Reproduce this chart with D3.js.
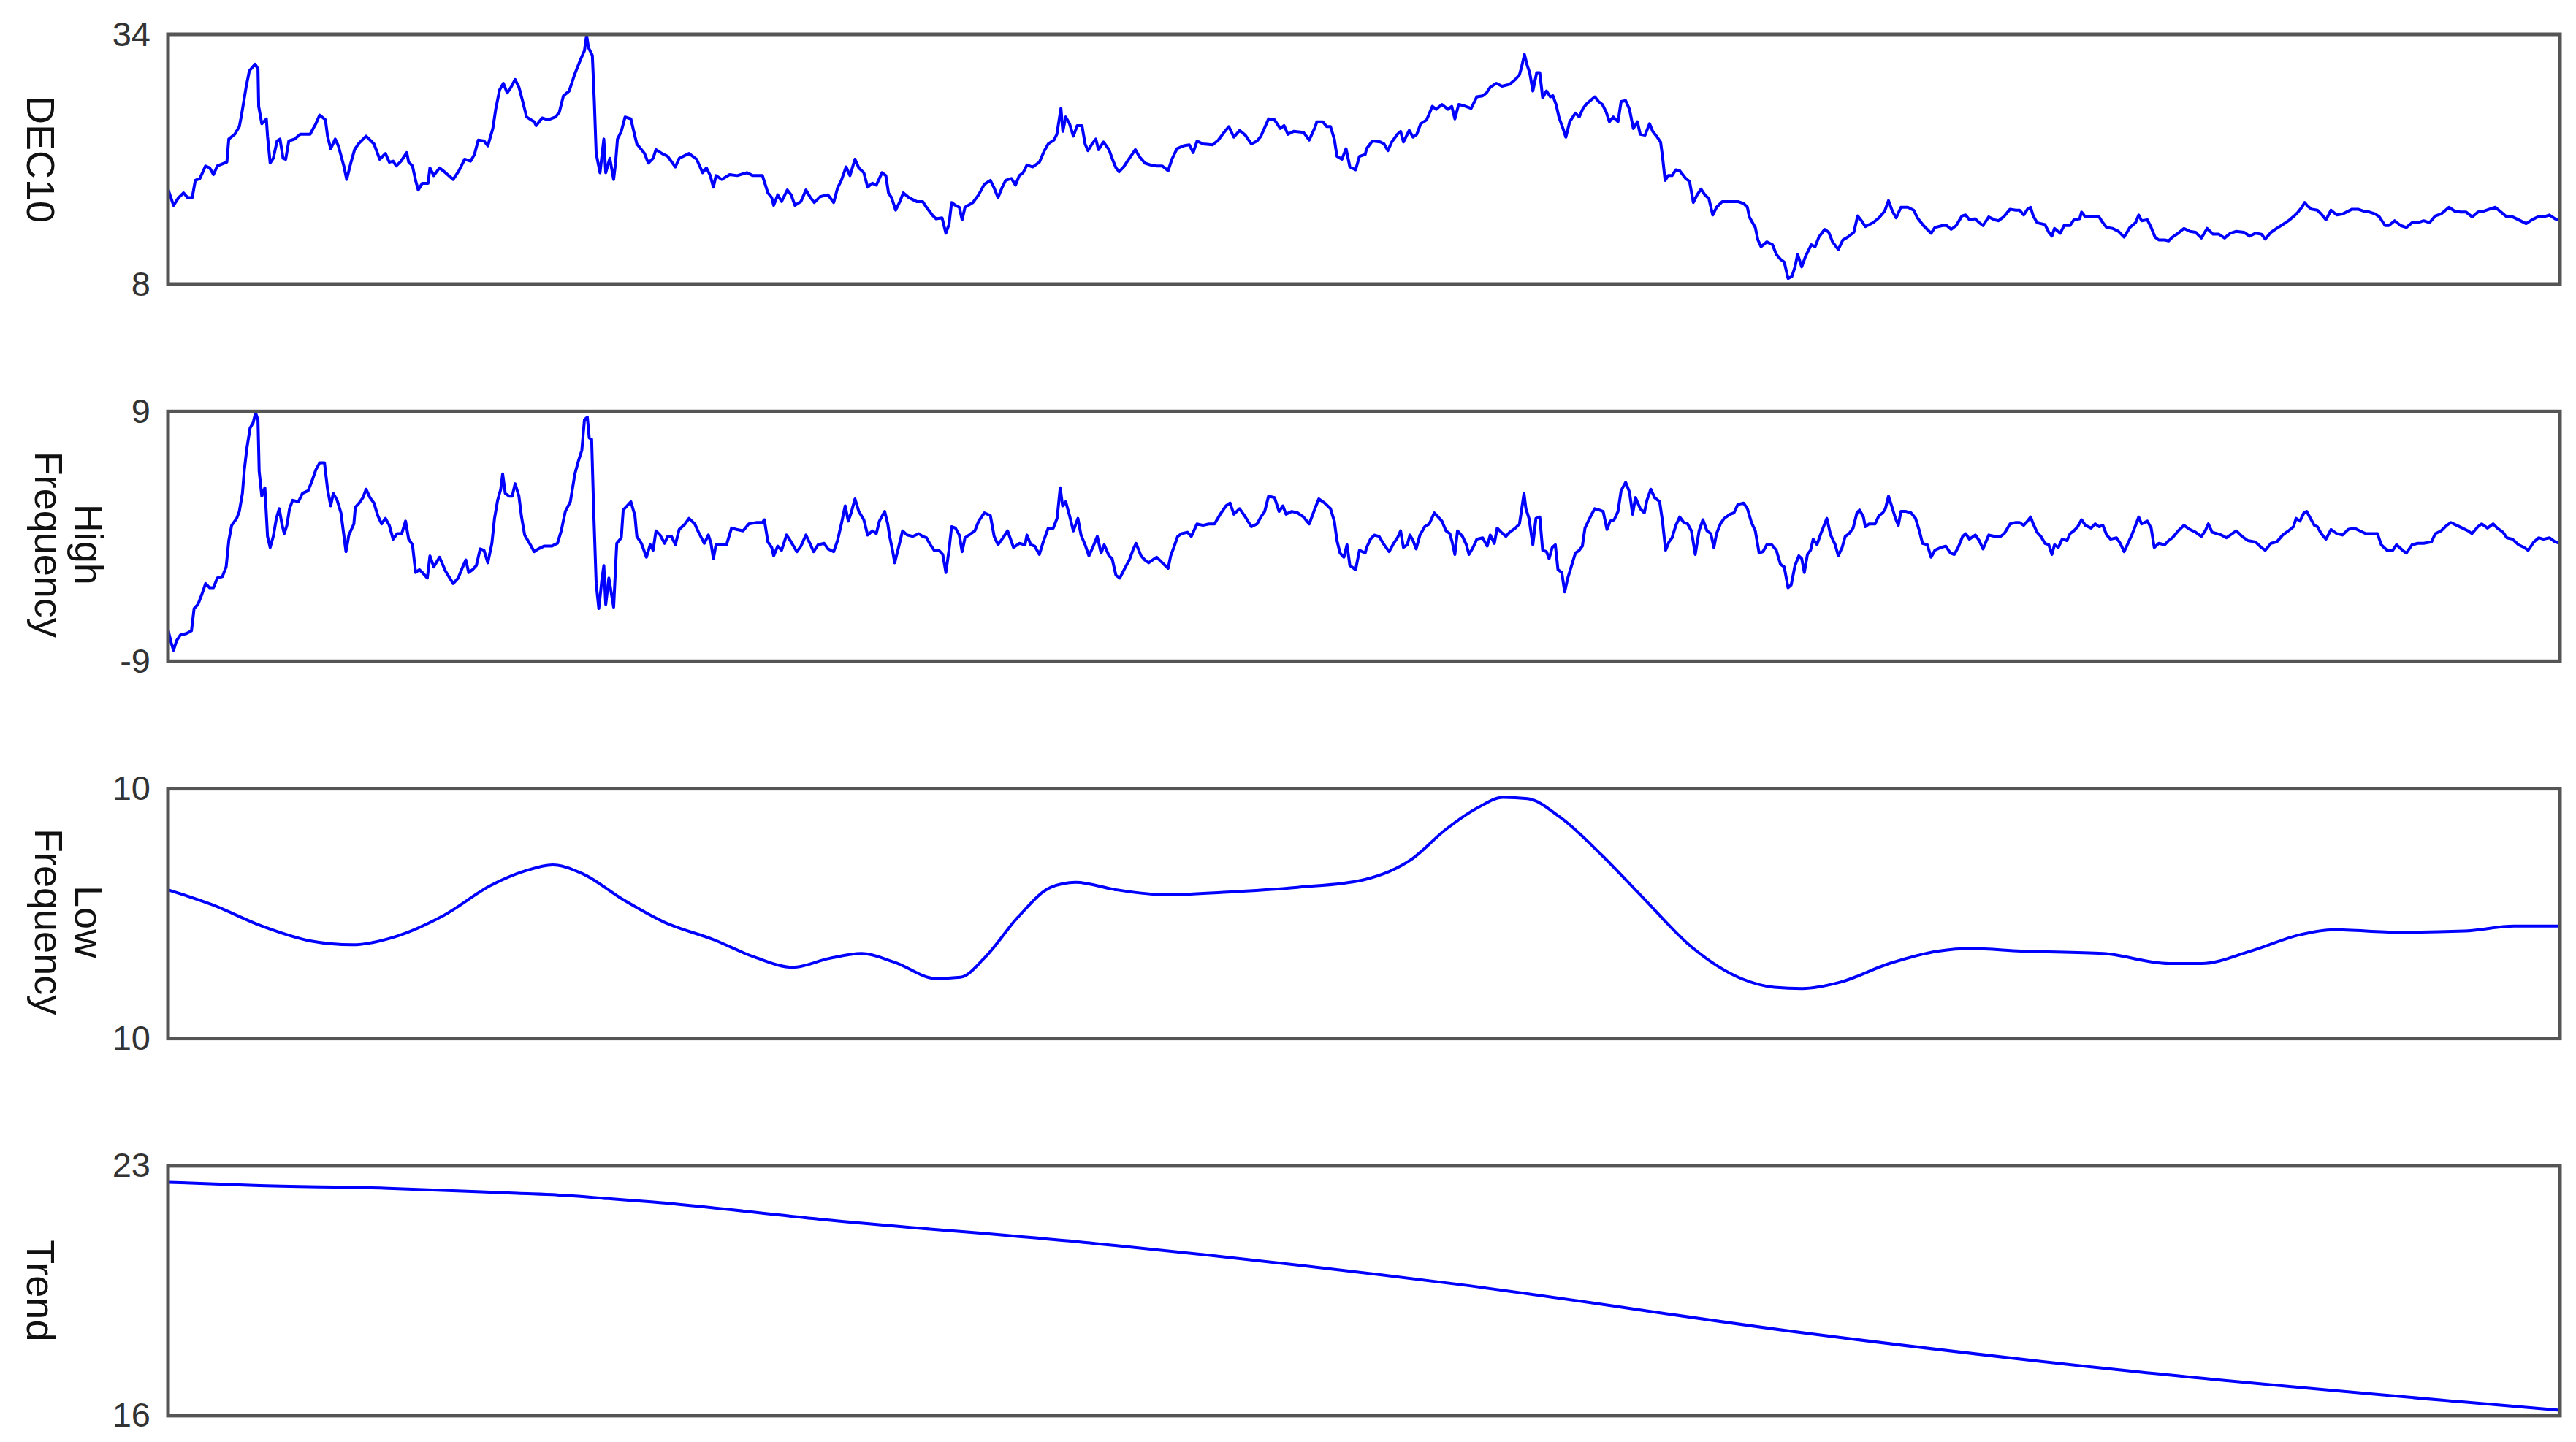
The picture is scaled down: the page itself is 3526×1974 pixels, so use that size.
<!DOCTYPE html>
<html>
<head>
<meta charset="utf-8">
<script src="https://cdn.jsdelivr.net/npm/d3@7"></script>
<style>
    html, body { margin: 0; padding: 0; background: #fff; }
    svg { display: block; }
    .tick-label { font-family: "Liberation Sans", Arial, sans-serif; font-size: 47px; fill: #333; }
    .y-label { font-family: "Liberation Sans", Arial, sans-serif; font-size: 54px; fill: #111; }
    .frame { fill: none; stroke: #555; stroke-width: 5; }
    .series { fill: none; stroke: #0000ff; stroke-width: 4; stroke-linejoin: round; }
</style>
</head>
<body>
<svg id="chart"></svg>
<script>
/**
 * Data: sample index (0..1000) and value for each component.
 */
const timeDomain = [0, 1000];
const panelTitles = [['DEC10'], ['High', 'Frequency'], ['Low', 'Frequency'], ['Trend']];
const panelRanges = [[8, 34], [-9, 9], [-10, 10], [16, 23]];
const panelTickLabels = [['34', '8'], ['9', '-9'], ['10', '10'], ['23', '16']];

const dec10 = [
    [0,17.9],[1.2,17.0],[2.3,16.2],[4.4,17.0],[6.5,17.5],[8.2,17.0],[10.1,17.0],[11.4,18.8],[13.3,19.0],[15.7,20.3],
    [17.4,20.1],[19.0,19.4],[20.6,20.3],[24.6,20.7],[25.4,23.1],[27.9,23.6],[29.8,24.4],[30.8,25.7],[32.7,28.6],[34.0,30.2],
    [36.4,30.9],[37.6,30.4],[37.9,26.5],[39.2,24.7],[41.1,25.2],[41.6,23.4],[42.7,20.6],[44.0,21.1],[45.6,22.9],[46.8,23.1],
    [48.1,21.1],[49.2,21.0],[50.5,22.9],[52.9,23.1],[55.3,23.6],[59.4,23.6],[61.8,24.7],[63.4,25.6],[65.8,25.1],[66.7,23.4],
    [68.0,22.1],[69.9,23.1],[71.2,22.4],[73.5,20.3],[74.7,18.9],[76.4,20.6],[78.0,22.0],[79.6,22.6],[82.8,23.4],[86.1,22.6],
    [88.5,21.0],[90.9,21.6],[92.5,20.7],[94.1,20.8],[95.4,20.3],[97.4,20.8],[99.8,21.7],[100.6,20.7],[102.2,20.3],[103.5,18.8],
    [104.6,17.8],[106.3,18.5],[108.7,18.5],[109.5,20.1],[111.1,19.3],[113.5,20.1],[116.0,19.6],[119.2,18.9],[121.6,19.8],[124.0,21.0],
    [126.5,20.8],[128.1,21.5],[129.7,23.0],[132.1,22.9],[133.7,22.4],[135.8,24.2],[137.0,26.2],[138.6,28.2],[140.2,28.9],[141.8,27.9],
    [143.4,28.5],[145.1,29.3],[146.7,28.5],[148.3,27.0],[149.9,25.4],[153.1,24.9],[153.9,24.5],[156.4,25.3],[158.8,25.1],[162.0,25.4],
    [163.6,25.9],[165.3,27.6],[167.7,28.1],[170.1,29.9],[172.5,31.4],[174.1,32.3],[175.0,33.9],[175.8,32.6],[177.4,31.8],[178.2,27.2],
    [179.0,21.6],[180.6,19.6],[182.2,23.1],[183.0,19.6],[184.7,21.1],[186.3,18.9],[187.1,20.6],[187.9,23.1],[189.5,23.9],[191.1,25.4],
    [193.5,25.2],[195.2,23.4],[196.0,22.6],[199.2,21.6],[200.8,20.6],[202.8,21.1],[204.0,22.0],[206.5,21.6],[208.9,21.3],[212.1,20.2],
    [213.7,21.1],[217.8,21.6],[221.0,21.0],[223.5,19.6],[225.1,20.1],[226.7,19.3],[228.0,18.1],[229.1,19.3],[231.5,18.9],[234.8,19.4],
    [238.0,19.3],[242.0,19.6],[244.5,19.3],[248.5,19.3],[250.8,17.5],[252.4,17.0],[253.2,16.2],[254.9,17.3],[256.5,16.6],[258.9,17.8],
    [260.5,17.3],[262.1,16.2],[264.6,16.6],[266.7,17.8],[268.6,17.0],[270.2,16.5],[272.6,17.1],[275.9,17.3],[278.3,16.5],[279.9,18.0],
    [281.5,18.8],[283.5,20.2],[285.1,19.3],[287.2,21.0],[288.8,20.1],[290.9,19.6],[292.5,18.1],[294.5,18.5],[296.1,18.3],[298.5,19.6],
    [300.1,19.3],[301.2,17.5],[302.5,17.0],[304.2,15.7],[305.8,16.5],[307.4,17.5],[309.8,17.0],[313.0,16.6],[315.5,16.6],[317.1,16.0],
    [319.5,15.2],[321.1,14.8],[323.6,14.9],[325.2,13.3],[326.5,14.2],[327.6,16.5],[329.2,16.2],[330.8,16.0],[332.0,14.7],[333.2,16.0],
    [336.5,16.5],[338.9,17.3],[341.3,18.4],[343.8,18.8],[345.4,18.0],[347.0,17.0],[348.6,18.0],[350.2,18.8],[352.6,19.0],[354.3,18.3],
    [355.9,19.3],[357.5,19.6],[359.1,20.4],[361.5,20.2],[364.3,20.7],[366.4,21.9],[368.0,22.6],[370.4,23.0],[371.6,23.6],[373.3,26.3],
    [374.1,23.9],[375.3,25.4],[376.9,24.7],[378.5,23.4],[380.1,24.5],[382.1,24.5],[383.4,22.6],[384.6,21.9],[386.3,22.6],[387.9,23.1],
    [389.0,22.0],[391.1,22.8],[393.4,22.0],[394.7,21.1],[396.3,20.1],[397.6,19.7],[399.5,20.2],[401.1,20.8],[404.4,22.0],[406.0,21.3],
    [408.4,20.6],[410.8,20.4],[413.3,20.3],[415.7,20.3],[418.1,19.8],[419.7,21.0],[421.8,22.1],[424.6,22.4],[427.0,22.5],[428.6,21.7],
    [430.2,22.9],[432.7,22.6],[436.7,22.5],[439.1,23.0],[441.5,23.8],[443.5,24.4],[445.6,23.3],[448.0,24.0],[450.4,23.5],[452.9,22.6],
    [455.3,22.9],[456.9,23.4],[458.5,24.3],[460.1,25.2],[462.6,25.1],[465.0,24.2],[466.6,24.5],[468.2,23.6],[470.6,23.9],[474.7,23.8],
    [477.1,23.0],[479.5,24.3],[480.3,24.9],[482.8,24.9],[484.4,24.4],[486.0,24.4],[487.6,23.1],[488.7,21.3],[490.8,21.0],[492.5,22.1],
    [494.1,20.2],[496.5,19.9],[498.1,21.3],[500.5,21.5],[501.1,22.1],[503.5,22.9],[506.8,22.8],[508.4,22.6],[510.0,21.9],[511.6,22.8],
    [514.0,23.6],[515.3,23.9],[516.5,22.8],[518.9,24.0],[520.5,23.3],[522.1,23.6],[523.7,24.7],[526.2,25.1],[528.6,26.5],[530.2,26.2],
    [532.6,26.7],[535.1,26.2],[536.7,26.5],[538.0,25.2],[539.6,26.7],[541.5,26.6],[544.8,26.3],[547.2,27.5],[549.6,27.6],[551.2,27.9],
    [552.8,28.5],[555.3,28.9],[557.7,28.6],[560.9,28.8],[563.3,29.3],[565.0,29.8],[565.8,30.5],[567.1,31.9],[568.2,30.8],[569.3,30.0],
    [570.6,28.1],[572.2,30.0],[573.5,30.0],[574.7,27.4],[576.3,28.1],[577.9,27.5],[579.0,27.6],[580.3,26.7],[581.6,25.3],[583.2,24.2],
    [584.4,23.3],[586.0,24.9],[588.4,25.8],[590.0,25.4],[591.6,26.3],[593.2,26.8],[596.5,27.5],[598.1,27.0],[599.7,26.7],[601.3,25.9],
    [602.6,24.9],[604.2,25.4],[606.2,24.9],[607.5,27.0],[609.4,27.1],[611.0,26.2],[612.6,24.2],[614.3,24.9],[615.5,23.6],[617.5,23.5],
    [619.4,24.7],[620.7,23.9],[622.3,23.4],[624.0,22.8],[624.8,21.3],[625.9,18.8],[627.2,19.3],[628.8,19.3],[630.4,19.9],[632.0,19.8],
    [634.5,19.0],[636.1,18.7],[637.7,16.5],[639.3,17.3],[640.9,17.9],[642.5,17.3],[644.2,16.9],[645.8,15.2],[647.4,16.0],[649.8,16.6],
    [653.1,16.6],[656.3,16.6],[658.7,16.4],[660.3,16.0],[661.1,15.0],[663.6,13.9],[664.7,12.6],[666.0,11.9],[668.4,12.4],[670.8,12.1],
    [672.4,11.1],[674.1,10.6],[675.7,10.3],[677.3,8.6],[678.9,8.8],[680.2,9.8],[681.3,11.1],[683.0,9.8],[684.6,10.9],[687.0,12.1],
    [688.6,11.9],[690.2,12.9],[692.6,13.7],[694.3,13.4],[695.9,12.4],[698.3,11.6],[700.2,12.6],[702.3,12.9],[704.8,13.4],[706.4,15.1],
    [708.0,14.6],[709.6,14.0],[712.9,14.4],[715.3,14.9],[717.7,15.6],[719.3,16.7],[720.9,15.6],[722.5,14.9],[724.5,16.0],[727.4,16.0],
    [729.8,15.7],[731.4,14.9],[733.9,14.1],[735.5,13.7],[737.1,13.3],[738.7,13.9],[741.9,14.1],[743.6,14.1],[745.5,13.7],[747.6,14.1],
    [750.0,15.1],[751.5,15.2],[753.1,14.7],[755.6,14.8],[757.2,14.4],[758.8,14.1],[761.2,15.0],[763.6,14.7],[765.3,14.6],[767.4,15.0],
    [770.1,15.8],[772.5,15.7],[774.1,15.7],[775.8,15.2],[777.4,15.8],[778.7,16.0],[779.8,15.1],[781.4,14.4],[783.0,14.3],[784.7,14.2],
    [786.3,13.4],[787.6,13.0],[788.7,13.8],[791.1,13.3],[792.7,14.1],[795.2,14.1],[796.8,14.7],[799.2,14.8],[800.0,15.5],[801.6,15.0],
    [804.9,15.0],[807.3,15.0],[808.9,14.4],[810.5,13.9],[813.0,13.8],[815.4,13.5],[817.8,12.9],[820.2,13.9],[822.6,14.4],[823.9,15.2],
    [825.1,14.6],[827.5,14.7],[829.1,13.9],[830.7,12.9],[832.3,12.6],[834.8,12.6],[836.4,12.5],[838.0,12.9],[840.4,13.3],[842.8,13.8],
    [845.3,13.5],[847.7,13.4],[850.1,12.8],[852.5,13.8],[855.0,13.2],[857.4,13.2],[859.8,12.8],[862.2,13.3],[864.7,13.5],[867.9,13.4],
    [870.3,13.0],[872.7,13.3],[875.2,13.2],[876.8,12.7],[879.2,13.4],[881.6,13.8],[884.1,14.2],[886.5,14.6],[888.9,15.1],[890.5,15.5],
    [892.1,16.0],[893.3,16.5],[894.6,16.1],[896.2,15.8],[898.6,15.7],[900.2,15.3],[902.2,14.7],[904.3,15.7],[906.7,15.2],[909.1,15.3],
    [910.7,15.5],[913.1,15.8],[915.6,15.8],[918.0,15.6],[920.4,15.5],[922.8,15.3],[924.5,15.0],[926.9,14.1],[928.5,14.1],[930.9,14.6],
    [933.4,14.1],[935.8,13.9],[938.2,14.4],[940.6,14.4],[943.0,14.6],[945.5,14.4],[947.9,15.1],[950.3,15.3],[953.6,16.0],[956.0,15.6],
    [958.4,15.5],[960.8,15.5],[963.3,15.0],[965.7,15.5],[968.1,15.6],[970.5,15.8],[973.0,16.0],[975.4,15.5],[977.8,15.0],[980.2,15.0],
    [982.7,14.7],[985.9,14.3],[988.3,14.7],[990.7,15.0],[993.2,15.0],[995.6,15.2],[998.0,14.8],[1000,14.6]
];

const highFrequency = [
    [0,-6.7],[1.2,-7.6],[2.3,-8.2],[3.6,-7.5],[5.2,-7.1],[7.7,-7.0],[9.8,-6.8],[10.9,-5.2],[12.5,-4.9],[14.1,-4.2],
    [15.7,-3.4],[17.4,-3.7],[19.0,-3.7],[20.6,-3.0],[22.7,-2.9],[24.3,-2.2],[25.4,-0.3],[26.6,0.8],[28.7,1.3],[29.8,1.8],
    [31.1,3.1],[31.9,4.8],[33.0,6.4],[34.3,7.8],[35.6,8.2],[36.6,8.9],[37.6,8.4],[38.1,4.7],[39.2,2.9],[40.5,3.5],
    [41.6,0.0],[42.7,-0.8],[44.0,0.0],[45.3,1.3],[46.5,2.0],[47.6,0.9],[48.6,0.2],[49.7,0.8],[50.8,2.0],[52.1,2.6],
    [54.5,2.5],[56.2,3.1],[58.6,3.3],[60.2,4.0],[61.8,4.8],[63.4,5.3],[65.4,5.3],[66.7,3.4],[68.0,2.2],[69.1,3.1],
    [70.7,2.6],[72.3,1.7],[73.5,0.1],[74.4,-1.1],[75.6,0.1],[77.7,0.9],[78.3,2.1],[79.9,2.4],[81.5,2.8],[82.8,3.4],
    [84.4,2.8],[86.1,2.4],[87.7,1.5],[89.3,0.9],[90.9,1.3],[92.5,0.8],[94.1,-0.2],[95.8,0.2],[97.7,0.2],[99.3,1.1],
    [100.6,-0.2],[102.2,-0.6],[103.5,-2.6],[105.1,-2.4],[106.3,-2.6],[108.4,-3.0],[109.5,-1.4],[111.1,-2.2],[113.5,-1.5],[116.0,-2.5],
    [119.2,-3.4],[121.3,-3.0],[123.2,-2.2],[124.5,-1.7],[125.7,-2.6],[127.3,-2.4],[128.9,-2.1],[130.5,-0.9],[132.1,-1.0],[133.7,-1.9],
    [135.4,-0.5],[136.5,1.3],[137.8,2.6],[139.1,3.4],[139.9,4.5],[141.0,3.1],[142.6,2.9],[143.9,2.9],[145.1,3.8],[146.7,2.9],
    [147.8,1.4],[149.1,0.1],[151.5,-0.6],[153.1,-1.1],[154.8,-0.9],[157.2,-0.7],[160.4,-0.7],[162.8,-0.5],[164.4,0.4],[166.1,1.8],
    [168.2,2.5],[170.1,4.5],[171.7,5.5],[173.0,6.2],[174.1,8.4],[175.3,8.6],[176.1,7.1],[177.1,7.0],[177.9,2.2],[179.0,-3.4],
    [180.1,-5.2],[181.4,-3.1],[182.2,-2.1],[183.0,-4.9],[184.3,-3.0],[186.3,-5.1],[187.6,-0.5],[189.5,-0.1],[190.3,1.9],[191.9,2.2],
    [193.5,2.5],[195.2,1.5],[196.0,0.0],[197.9,-0.5],[200.0,-1.5],[201.6,-0.6],[202.8,-1.0],[204.0,0.4],[205.7,0.1],[207.6,-0.5],
    [208.9,0.0],[210.5,0.0],[212.1,-0.6],[213.7,0.5],[216.2,0.9],[217.8,1.3],[220.2,0.9],[221.8,0.3],[224.2,-0.5],[225.9,0.1],
    [227.0,-0.5],[228.0,-1.6],[229.1,-0.6],[231.5,-0.6],[233.5,-0.6],[235.6,0.6],[237.7,0.5],[240.4,0.4],[242.8,0.9],[246.1,1.0],
    [248.5,1.0],[249.3,1.2],[250.8,-0.4],[252.4,-0.8],[253.2,-1.4],[254.9,-0.7],[256.5,-1.0],[258.6,0.1],[260.5,-0.4],[262.9,-1.1],
    [264.6,-0.7],[266.7,0.1],[268.6,-0.6],[269.9,-1.1],[271.8,-0.6],[274.3,-0.5],[275.9,-0.9],[278.3,-1.1],[279.9,-0.3],[281.5,0.9],
    [283.1,2.2],[284.4,1.1],[285.6,1.7],[287.2,2.7],[288.8,1.8],[290.9,1.2],[292.5,0.1],[294.5,0.4],[296.1,0.2],[297.4,1.1],
    [299.6,1.8],[300.9,0.9],[301.7,0.0],[302.9,-1.0],[303.8,-1.9],[305.4,-0.8],[307.1,0.4],[309.0,0.1],[311.4,0.0],[313.9,0.2],
    [315.5,0.0],[317.1,-0.1],[318.7,-0.6],[320.3,-1.0],[322.3,-1.0],[323.9,-1.3],[325.2,-2.6],[326.5,-1.0],[327.6,0.7],[329.2,0.6],
    [330.8,0.1],[332.0,-1.1],[333.2,-0.1],[334.9,0.1],[337.3,0.4],[338.9,1.1],[341.3,1.7],[343.8,1.5],[345.4,0.0],[347.0,-0.6],
    [349.1,-0.1],[351.0,0.4],[353.5,-0.8],[355.9,-0.5],[358.3,-0.6],[359.1,0.1],[360.7,-0.6],[362.3,-0.7],[364.3,-1.3],[365.9,-0.4],
    [368.0,0.6],[370.1,0.6],[371.7,1.3],[373.0,3.5],[374.0,2.2],[375.3,2.5],[376.9,1.5],[378.5,0.4],[380.4,1.3],[381.7,0.1],
    [383.4,-0.6],[385.0,-1.4],[386.6,-0.8],[388.5,0.0],[390.1,-1.2],[391.4,-0.6],[393.4,-1.4],[394.7,-1.6],[396.3,-2.8],[397.9,-3.0],
    [400.3,-2.2],[401.9,-1.7],[403.6,-0.9],[404.7,-0.5],[406.8,-1.4],[408.4,-1.7],[410.0,-1.9],[411.6,-1.7],[413.3,-1.5],[415.7,-1.9],
    [418.1,-2.3],[419.2,-1.4],[420.5,-0.8],[422.1,0.0],[423.8,0.2],[426.2,0.3],[427.8,0.0],[430.2,0.9],[432.7,0.8],[435.1,0.9],
    [437.5,0.9],[439.9,1.6],[442.3,2.2],[444.0,2.4],[445.6,1.6],[448.0,2.0],[450.4,1.4],[452.9,0.7],[455.3,0.9],[456.9,1.4],
    [458.5,1.8],[460.1,2.9],[462.6,2.8],[464.5,1.8],[466.1,2.2],[467.4,1.6],[469.8,1.8],[472.2,1.7],[474.7,1.4],[477.1,0.9],
    [479.5,2.0],[481.1,2.7],[483.6,2.4],[486.0,2.0],[487.6,1.1],[488.7,-0.3],[490.0,-1.2],[491.6,-1.5],[492.9,-0.6],[494.1,-2.1],
    [496.5,-2.4],[498.1,-1.0],[500.5,-1.2],[501.1,-0.8],[502.7,-0.2],[504.3,0.1],[506.3,0.0],[508.4,-0.6],[510.5,-1.1],[512.4,-0.5],
    [514.0,-0.1],[515.3,0.4],[516.5,-0.8],[518.1,-0.6],[519.2,0.1],[520.5,-0.3],[521.8,-0.9],[523.4,0.1],[525.4,0.7],[527.3,0.9],
    [529.4,1.7],[531.0,1.4],[532.6,1.1],[534.3,0.4],[535.9,0.2],[537.0,-0.5],[538.0,-1.3],[539.1,0.4],[541.2,0.0],[542.8,-0.6],
    [543.9,-1.3],[545.6,-0.8],[547.2,-0.2],[549.6,-0.1],[551.5,-0.7],[552.8,0.1],[554.5,-0.5],[555.7,0.6],[557.4,0.3],[559.3,0.0],
    [560.9,0.3],[563.3,0.6],[565.0,0.9],[565.8,1.8],[566.9,3.1],[567.7,2.0],[569.0,1.3],[570.6,-0.6],[571.9,1.3],[573.5,1.4],
    [574.7,-1.0],[576.3,-1.1],[577.4,-1.6],[578.7,-0.8],[580.0,-0.6],[581.1,-2.4],[582.7,-2.6],[583.9,-4.0],[585.2,-3.0],[586.8,-2.1],
    [588.4,-1.2],[590.0,-1.0],[591.3,-0.7],[592.4,0.6],[594.9,1.5],[596.5,2.0],[598.4,1.9],[600.0,1.8],[601.6,0.5],[602.9,1.1],
    [604.6,1.2],[606.2,1.8],[607.5,3.3],[609.4,3.9],[611.0,3.2],[612.3,1.6],[613.5,2.8],[615.5,2.0],[617.2,1.7],[618.3,2.6],
    [619.9,3.4],[621.5,2.8],[623.6,2.5],[624.8,1.1],[626.1,-1.0],[627.5,-0.4],[628.8,-0.1],[630.4,0.8],[632.0,1.4],[633.7,1.0],
    [635.3,0.9],[636.9,0.4],[638.5,-1.3],[640.1,0.4],[641.7,1.2],[643.4,0.4],[645.0,0.2],[646.3,-0.8],[647.4,0.2],[649.0,0.9],
    [650.6,1.3],[653.1,1.6],[654.7,1.7],[656.3,2.3],[658.7,2.4],[660.3,2.0],[662.0,1.0],[663.6,0.4],[665.2,-1.2],[666.8,-1.1],
    [668.4,-0.6],[670.5,-0.6],[672.4,-1.0],[674.1,-2.0],[675.7,-2.2],[677.3,-3.7],[678.6,-3.5],[680.2,-2.1],[681.8,-1.4],[683.0,-1.6],
    [684.1,-2.6],[685.4,-1.3],[686.7,-1.0],[687.8,-0.2],[689.4,-0.6],[691.0,0.2],[692.6,0.9],[693.5,1.3],[695.1,0.1],[697.0,-0.6],
    [698.3,-1.4],[699.9,-0.8],[701.2,0.0],[702.8,0.2],[704.5,0.6],[706.1,1.7],[707.2,1.9],[708.8,1.4],[709.6,0.7],[711.2,0.9],
    [713.7,0.9],[715.3,1.5],[716.9,1.7],[718.0,2.0],[719.3,2.9],[720.6,2.2],[722.2,1.3],[723.4,0.8],[724.5,1.8],[726.6,1.8],
    [728.7,1.7],[730.6,1.3],[732.2,0.4],[733.5,-0.5],[735.5,-0.6],[737.1,-1.5],[738.7,-1.0],[741.1,-0.8],[743.2,-0.7],[745.2,-1.2],
    [746.8,-1.3],[748.4,-0.8],[750.3,0.0],[751.6,0.2],[753.1,-0.2],[755.6,0.1],[757.2,-0.3],[758.8,-0.9],[761.2,0.1],[763.6,0.0],
    [766.1,0.0],[767.7,0.2],[770.1,0.9],[772.5,1.0],[774.1,1.0],[775.8,0.8],[777.4,1.1],[778.7,1.4],[779.8,0.9],[781.4,0.3],
    [783.0,0.0],[784.7,-0.5],[786.3,-0.6],[787.6,-1.3],[788.7,-0.6],[790.3,-0.8],[791.9,-0.2],[793.9,-0.3],[795.2,0.2],[796.8,0.4],
    [798.4,0.7],[800.0,1.2],[801.6,0.8],[804.0,0.6],[805.7,0.9],[807.3,0.7],[808.9,0.8],[810.5,0.1],[812.1,-0.2],[814.6,-0.1],
    [816.2,-0.5],[817.8,-1.1],[819.4,-0.5],[821.0,0.1],[822.6,0.8],[823.9,1.4],[825.1,0.9],[827.5,1.1],[829.1,0.6],[830.4,-0.8],
    [832.3,-0.5],[834.8,-0.6],[836.4,-0.3],[838.0,-0.1],[840.4,0.4],[842.8,0.8],[845.3,0.5],[847.7,0.3],[850.1,0.0],[851.7,0.4],
    [853.0,0.9],[854.6,0.3],[856.6,0.2],[858.5,0.1],[860.6,-0.1],[863.0,0.2],[864.7,0.4],[867.1,0.0],[869.5,-0.3],[872.7,-0.4],
    [875.2,-0.8],[876.8,-1.0],[879.2,-0.5],[881.6,-0.4],[884.1,0.1],[886.5,0.4],[888.6,0.7],[889.7,1.3],[891.3,1.1],[893.0,1.7],
    [894.1,1.8],[895.4,1.4],[897.3,0.8],[898.6,0.7],[900.2,0.2],[902.2,-0.2],[904.3,0.5],[906.7,0.2],[909.1,0.1],[911.5,0.5],
    [914.0,0.6],[916.4,0.4],[918.8,0.2],[921.2,0.2],[923.7,0.2],[925.3,-0.6],[927.7,-1.0],[930.1,-1.0],[931.7,-0.6],[934.2,-1.0],
    [935.8,-1.2],[938.2,-0.6],[940.6,-0.5],[943.0,-0.5],[946.3,-0.4],[947.9,0.2],[950.3,0.4],[952.7,0.8],[954.4,1.0],[956.8,0.8],
    [959.2,0.6],[961.6,0.4],[963.2,0.2],[965.7,0.7],[967.3,0.9],[969.7,0.6],[972.1,0.9],[973.8,0.6],[976.2,0.3],[977.8,-0.1],
    [980.2,-0.2],[982.7,-0.6],[985.1,-0.8],[986.7,-1.0],[989.1,-0.4],[991.1,-0.1],[993.1,-0.2],[995.6,-0.1],[998.0,-0.4],[1000,-0.5]
];

const lowFrequency = [
    [0,1.9],[18.6,0.7],[39.2,-1.0],[59.8,-2.2],[77.0,-2.5],[94.2,-1.9],[114.8,-0.2],[135.4,2.3],[149.1,3.4],[160.8,3.9],
    [173.2,3.2],[190.4,1.1],[207.6,-0.7],[228.2,-2.1],[245.4,-3.5],[261.2,-4.3],[276.3,-3.6],[290.0,-3.2],[303.8,-3.9],[321.0,-5.2],
    [331.3,-5.1],[341.6,-3.5],[355.3,-0.3],[369.1,2.1],[379.4,2.5],[396.6,1.9],[417.2,1.5],[441.2,1.7],[472.2,2.1],[499.7,2.7],
    [520.3,4.4],[534.0,6.7],[547.8,8.5],[558.1,9.3],[568.4,9.2],[582.1,7.7],[599.3,4.7],[616.5,1.3],[637.1,-2.7],[657.7,-5.2],
    [671.5,-5.9],[683.2,-6.0],[699.0,-5.5],[719.6,-4.0],[740.2,-3.0],[754.0,-2.8],[774.6,-3.0],[809.0,-3.2],[836.4,-4.0],[850.2,-4.0],
    [870.8,-3.0],[891.4,-1.7],[905.2,-1.3],[932.7,-1.5],[960.2,-1.4],[980.8,-1.0],[1000,-1.0]
];

const trend = [
    [0,22.54],[36,22.45],[92,22.37],[123,22.29],[146,22.23],[167,22.17],[184,22.08],[202,21.99],[273,21.5],[388,20.82],
    [538,19.69],[686,18.3],[823,17.23],[960,16.38],[1000,16.15]
];

const panelSeries = [dec10, highFrequency, lowFrequency, trend];
const smoothPanels = [false, false, true, true];

/**
 * Visual configs.
 */
const width = 3526, height = 1974;
const margin = { top: 47, right: 22, left: 230 };
const panelHeight = 342, panelStep = 516.3;

const svg = d3.select('#chart')
    .attr('width', width)
    .attr('height', height);

const xScale = d3.scaleLinear()
    .domain(timeDomain)
    .range([margin.left, width - margin.right]);

panelSeries.forEach((series, i) => {
    const top = margin.top + i * panelStep,
        bottom = top + panelHeight,
        [lo, hi] = panelRanges[i];

    const yScale = d3.scaleLinear()
        .domain([lo, hi])
        .range([bottom, top]);

    const panel = svg.append('g').attr('class', 'panel');

    // Clip so lines never leave the box
    panel.append('clipPath').attr('id', 'clip-' + i)
        .append('rect')
        .attr('x', xScale.range()[0])
        .attr('y', top)
        .attr('width', xScale.range()[1] - xScale.range()[0])
        .attr('height', panelHeight);

    const line = d3.line()
        .x(d => xScale(d[0]))
        .y(d => yScale(d[1]))
        .curve(smoothPanels[i] ? d3.curveMonotoneX : d3.curveLinear);

    panel.append('path')
        .datum(series)
        .attr('class', 'series')
        .attr('clip-path', 'url(#clip-' + i + ')')
        .attr('d', line);

    // Box
    panel.append('rect')
        .attr('class', 'frame')
        .attr('x', xScale.range()[0])
        .attr('y', top)
        .attr('width', xScale.range()[1] - xScale.range()[0])
        .attr('height', panelHeight);

    // Only the two end ticks are labelled
    const yAxis = d3.axisLeft(yScale)
        .tickValues([hi, lo])
        .tickSize(0)
        .tickPadding(24)
        .tickFormat((d, k) => panelTickLabels[i][k]);

    const axisG = panel.append('g')
        .attr('transform', 'translate(' + margin.left + ',0)')
        .call(yAxis);
    axisG.select('.domain').remove();
    axisG.attr('font-size', null).attr('font-family', null);
    axisG.selectAll('text').attr('class', 'tick-label');

    // Vertical title, reads top to bottom
    const lines = panelTitles[i],
        two = lines.length > 1,
        cy = (top + bottom) / 2 + (two ? 11 : 0),
        baseX = two ? 103 : 37;

    const title = panel.append('text')
        .attr('class', 'y-label')
        .attr('text-anchor', 'middle')
        .attr('transform', 'translate(' + baseX + ',' + cy + ') rotate(90)');

    title.selectAll('tspan')
        .data(lines)
        .join('tspan')
        .attr('x', 0)
        .attr('dy', (d, k) => k === 0 ? 0 : 55)
        .text(d => d);
});
</script>
</body>
</html>
